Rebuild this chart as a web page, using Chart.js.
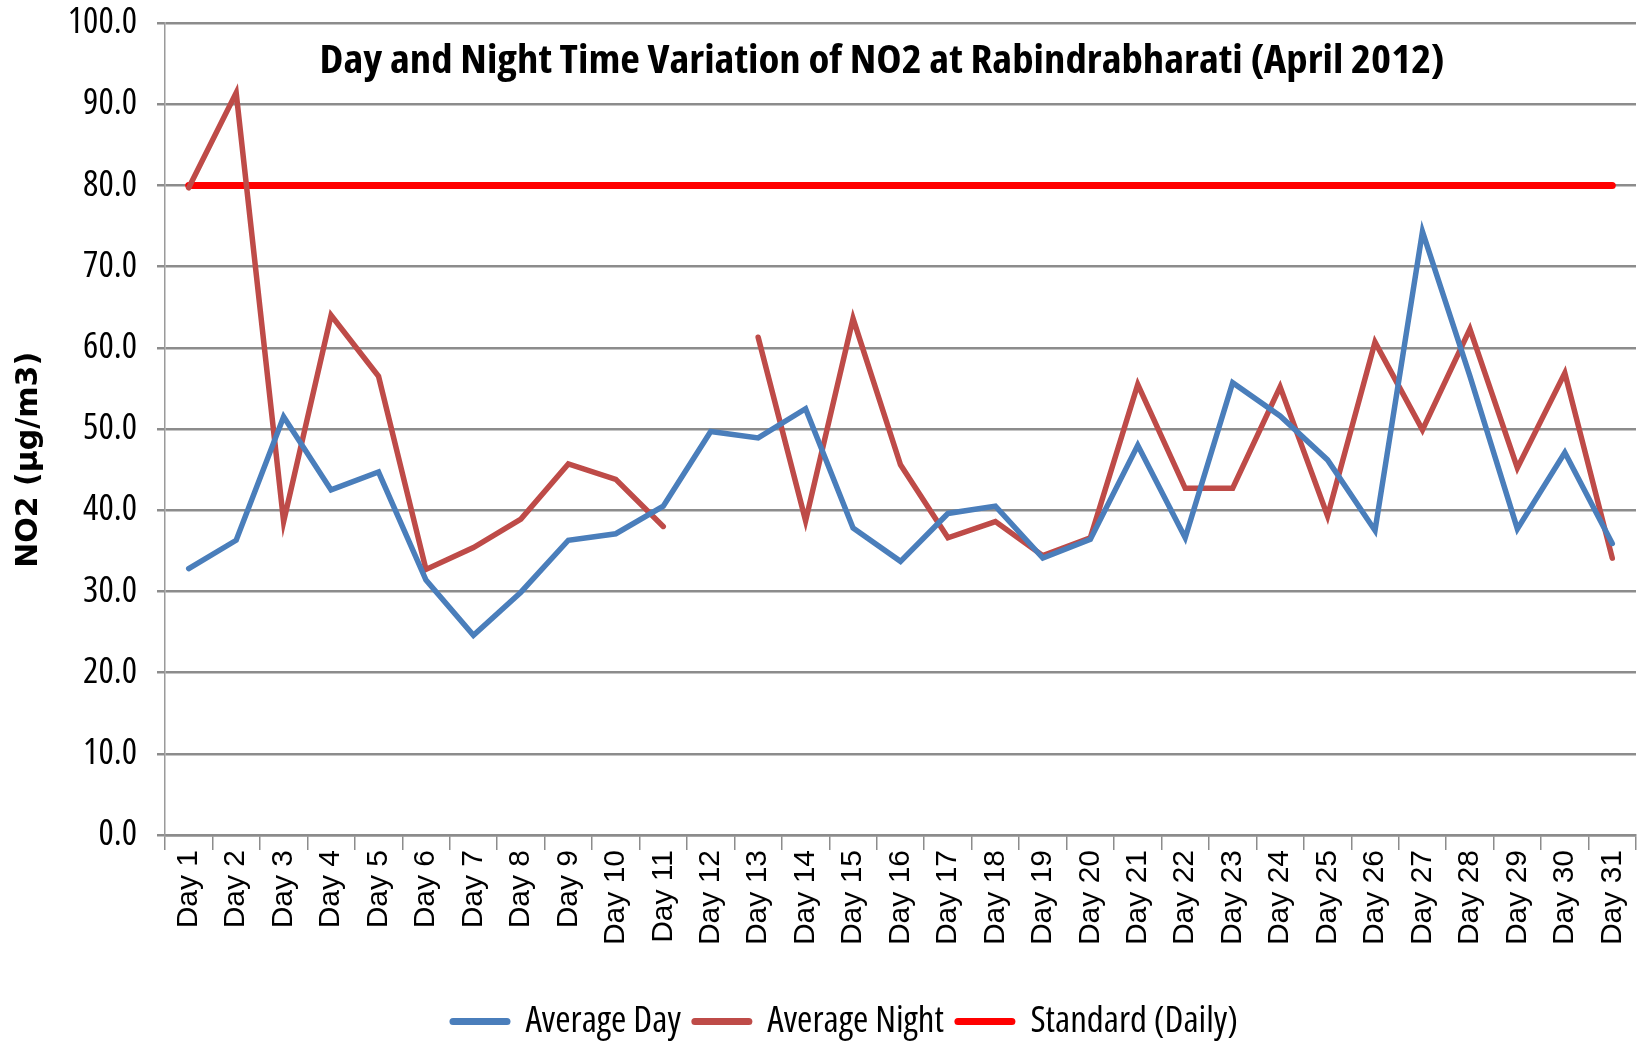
<!DOCTYPE html>
<html><head><meta charset="utf-8">
<script src="https://cdn.jsdelivr.net/npm/chart.js@4"></script>
<style>html,body{margin:0;padding:0;background:#fff;overflow:hidden}#wrap{width:1639px;height:1042px;position:relative}</style>
</head><body><div id="wrap"><canvas id="c" width="1639" height="1042"></canvas></div>
<script>
const categories = ['Day 1','Day 2','Day 3','Day 4','Day 5','Day 6','Day 7','Day 8','Day 9','Day 10','Day 11','Day 12','Day 13','Day 14','Day 15','Day 16','Day 17','Day 18','Day 19','Day 20','Day 21','Day 22','Day 23','Day 24','Day 25','Day 26','Day 27','Day 28','Day 29','Day 30','Day 31'];
const averageDay = [32.8,36.3,51.5,42.5,44.7,31.4,24.6,29.9,36.3,37.1,40.5,49.7,48.9,52.5,37.8,33.7,39.6,40.5,34.1,36.4,48.0,36.6,55.7,51.6,46.2,37.5,74.3,56.5,37.7,47.1,35.9];
const averageNight = [79.7,91.4,38.6,64.0,56.5,32.7,35.4,38.9,45.7,43.8,38.0,null,61.3,38.7,63.6,45.6,36.6,38.6,34.4,36.6,55.5,42.7,42.7,55.2,39.3,60.7,49.9,62.3,45.2,56.9,34.1];
const standardDaily = [80,80,80,80,80,80,80,80,80,80,80,80,80,80,80,80,80,80,80,80,80,80,80,80,80,80,80,80,80,80,80];
const seriesNames = ['Average Day','Average Night','Standard (Daily)'];
const chartTitle = 'Day and Night Time Variation of NO2 at Rabindrabharati (April 2012)';
const yAxisTitle = 'NO2 (µg/m3)';
const yMin = 0, yMax = 100, yStep = 10;

// pick a narrow (Calibri-like) face among installed fonts
function pickNarrow() {
  const c = document.createElement('canvas').getContext('2d');
  const t = 'Average Night 100.0 Rabindrabharati';
  const w = f => { c.font = f; return c.measureText(t).width; };
  const base = w("30px monospace");
  const cands = [
    ["'Open Sans'", 'semi-condensed'],
    ["'Noto Sans'", 'semi-condensed'],
    ["'Liberation Sans Narrow'", ''],
    ["'DejaVu Sans Condensed'", '']
  ];
  for (const [fam, st] of cands) {
    const normal = w("30px " + fam + ", monospace");
    if (Math.abs(normal - base) < 0.5) continue;
    if (!st) return {family: fam, stretch: ''};
    const narrow = w(st + " 30px " + fam + ", monospace");
    if (narrow < normal * 0.97) return {family: fam, stretch: st};
  }
  return {family: "'Liberation Sans'", stretch: ''};
}
const NF = pickNarrow();
const NARROW = NF.family + ",'Liberation Sans',sans-serif";
const ST = NF.stretch ? ' ' + NF.stretch : '';
const GRID = '#8c8c8c';

const titlePlugin = {
  id: 'titles',
  afterLayout(chart) {
    // nudge legend row down to sit near the bottom edge
    const l = chart.legend;
    if (l) { l.top += 8; l.bottom += 8; }
  },
  afterDraw(chart) {
    const ctx = chart.ctx, a = chart.chartArea;
    ctx.save();
    ctx.fillStyle = '#000';
    ctx.textAlign = 'center';
    ctx.textBaseline = 'middle';
    ctx.font = 'bold' + ST + ' 40px ' + NARROW;
    const tw = ctx.measureText(chartTitle).width;
    const sx = Math.min(1.25, 1125 / tw);
    ctx.save();
    ctx.translate(a.left + a.width * 0.4875, a.top + 39);
    ctx.scale(sx, 1);
    ctx.fillText(chartTitle, 0, 0);
    ctx.restore();
    ctx.translate(29, a.top + a.height * 0.538);
    ctx.rotate(-Math.PI / 2);
    ctx.font = "bold 30px 'DejaVu Sans',sans-serif";
    ctx.fillText(yAxisTitle, 0, 0);
    ctx.restore();
  }
};

new Chart(document.getElementById('c'), {
  type: 'line',
  data: {
    labels: categories,
    datasets: [
      {label: seriesNames[0], data: averageDay, borderColor: '#4A7EBB', backgroundColor: '#4A7EBB', borderWidth: 5.5, pointRadius: 0, borderCapStyle: 'round', tension: 0},
      {label: seriesNames[1], data: averageNight, borderColor: '#BE4B48', backgroundColor: '#BE4B48', borderWidth: 5.5, pointRadius: 0, borderCapStyle: 'round', spanGaps: false, tension: 0},
      {label: seriesNames[2], data: standardDaily, borderColor: '#FF0000', backgroundColor: '#FF0000', borderWidth: 7, pointRadius: 0, borderCapStyle: 'round', tension: 0}
    ]
  },
  options: {
    responsive: false,
    animation: false,
    devicePixelRatio: 1,
    layout: {padding: {top: 23, right: 3, left: 55, bottom: 0}},
    plugins: {
      title: {display: false},
      tooltip: {enabled: false},
      legend: {
        position: 'bottom',
        labels: {
          usePointStyle: true, pointStyle: 'line', pointStyleWidth: 54,
          color: '#000', padding: 14,
          font: {family: NARROW, size: 37, weight: NF.stretch || undefined},
          generateLabels(chart) {
            const items = Chart.defaults.plugins.legend.labels.generateLabels(chart);
            items.forEach(it => { it.lineWidth = 7; it.lineCap = 'round'; });
            return items;
          }
        }
      }
    },
    scales: {
      x: {
        offset: true,
        grid: {offset: true, drawOnChartArea: false, drawTicks: true, tickLength: 15, color: GRID, lineWidth: 1.5},
        border: {display: true, color: GRID, width: 2.5},
        ticks: {minRotation: 90, maxRotation: 90, autoSkip: false, padding: 0, color: '#000', font: {family: "'Liberation Sans',Arial,sans-serif", size: 30}},
        afterFit(s) { s.height = 146; s.paddingLeft = 0; s.paddingRight = 0; }
      },
      y: {
        min: yMin, max: yMax,
        grid: {color: GRID, lineWidth: 2.5, tickLength: 8},
        border: {display: true, color: '#9a9a9a', width: 1.5},
        ticks: {stepSize: yStep, padding: 20, color: '#000', font: {family: NARROW, size: 36, weight: NF.stretch || undefined}, callback: v => Number(v).toFixed(1)},
        afterFit(s) { s.width = 110; s.paddingTop = 0; s.paddingBottom = 0; }
      }
    }
  },
  plugins: [titlePlugin]
});
</script></body></html>
